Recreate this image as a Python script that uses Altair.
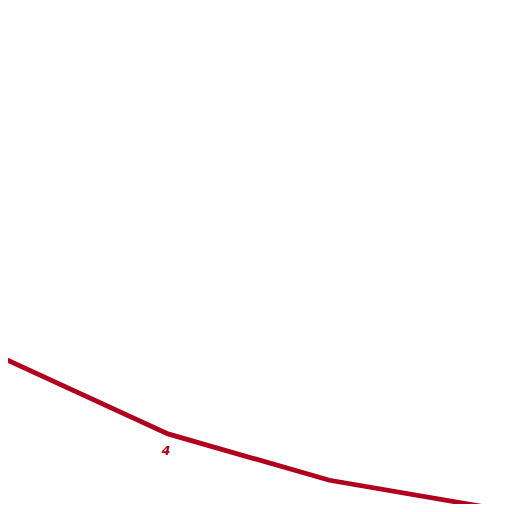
import altair as alt
import pandas as pd

xs = [3, 4, 5, 6, 7]
ys = [25.2, 10.5, 1.3, -4.2, -7.5]
label_x = [4]
label_y = [10.5]
label_text = ["4"]

color = "#b0001e"

df = pd.DataFrame({"x": xs, "y": ys})
lab = pd.DataFrame({"x": label_x, "y": label_y, "t": label_text})

xscale = alt.Scale(domain=[3.0093, 6.0805], nice=False, zero=False)
yscale = alt.Scale(domain=[-3.413, 95], nice=False, zero=False)

line = alt.Chart(df).mark_line(color=color, strokeWidth=4.8, clip=True).encode(
    x=alt.X("x:Q", scale=xscale, axis=None),
    y=alt.Y("y:Q", scale=yscale, axis=None),
)

text = alt.Chart(lab).mark_text(
    color=color, fontSize=12.5, fontStyle="italic", fontWeight="bold",
    font="DejaVu Sans", dy=17, dx=-2
).encode(
    x=alt.X("x:Q", scale=xscale, axis=None),
    y=alt.Y("y:Q", scale=yscale, axis=None),
    text="t:N",
)

chart = (line + text).properties(
    width=496, height=496,
    autosize=alt.AutoSizeParams(type="none"),
    padding=0,
).configure_view(stroke=None)

chart.save("out.html", embed_options={"renderer": "svg", "actions": False})
